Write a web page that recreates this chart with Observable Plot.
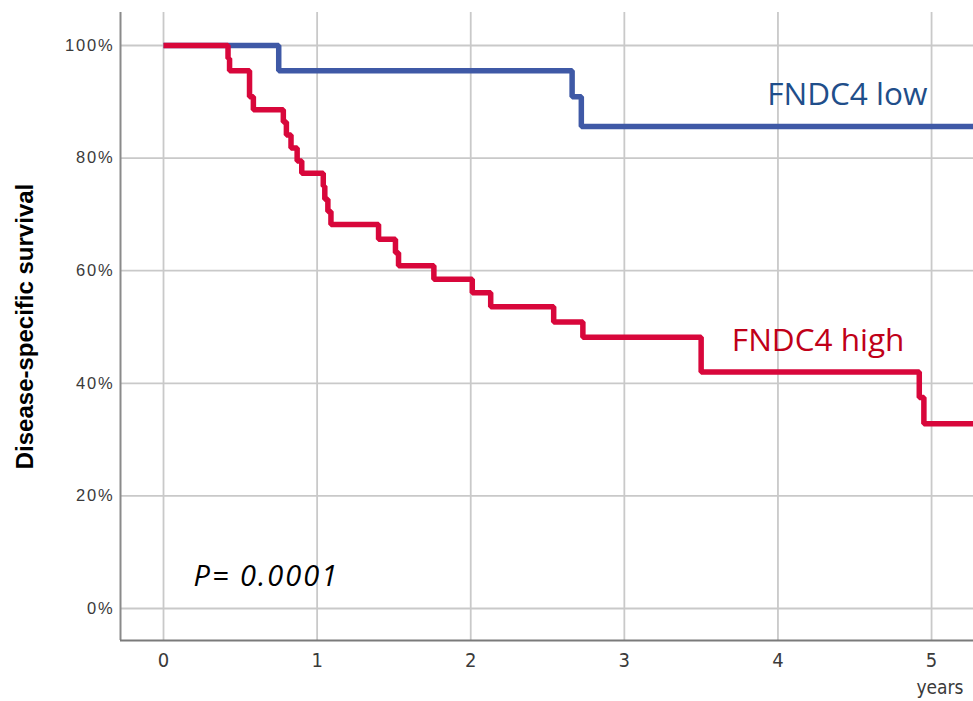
<!DOCTYPE html>
<html>
<head>
<meta charset="utf-8">
<script src="https://cdn.jsdelivr.net/npm/d3@7"></script>
<script src="https://cdn.jsdelivr.net/npm/@observablehq/plot@0.6"></script>
<style>
  html, body { margin: 0; padding: 0; background: #fff; }
  .ks g[aria-label="y-axis tick label"] { font-family: "Liberation Sans", Arial, sans-serif; font-size: 16.5px; fill: #3a3a3a; letter-spacing: 1.8px; }
  .ks g[aria-label="x-axis tick label"] { font-family: "Liberation Sans Narrow", "Arial Narrow", "DejaVu Sans Condensed", "DejaVu Sans", sans-serif; font-size: 20px; fill: #3a3a3a; font-stretch: condensed; }
</style>
</head>
<body>
<div id="chart"></div>
<script>
// ---- data ----
const yearTicks = [0, 1, 2, 3, 4, 5];
const pctTicks = [0, 20, 40, 60, 80, 100];
const seriesNames = ["FNDC4 low", "FNDC4 high"];
const seriesColors = ["#3f59a6", "#d8073b"];

const lowTime = [0, 0.75, 2.66, 2.72, 5.3];
const lowSurv = [100, 95.5, 90.9, 85.6, 85.6];

const highTime = [0, 0.42, 0.43, 0.56, 0.585, 0.78, 0.80, 0.83, 0.87, 0.90, 1.04, 1.05, 1.07, 1.09, 1.40, 1.51, 1.53, 1.76, 2.01, 2.13, 2.54, 2.73, 3.50, 4.92, 4.95, 5.3];
const highSurv = [100, 97.7, 95.5, 90.9, 88.6, 86.4, 84.1, 81.8, 79.5, 77.3, 75.0, 72.7, 70.5, 68.2, 65.6, 63.2, 60.9, 58.5, 56.1, 53.6, 50.9, 48.2, 42.0, 37.5, 32.8, 32.8];

const pText = "P= 0.0001";
const yTitle = "Disease-specific survival";
const xTitle = "years";

const xDomain = [-0.28, 5.273];
const yDomain = [-5.68, 105.86];

const low = lowTime.map((t, i) => ({time: t, surv: lowSurv[i], group: seriesNames[0]}));
const high = highTime.map((t, i) => ({time: t, surv: highSurv[i], group: seriesNames[1]}));

const chart = Plot.plot({
  width: 973,
  height: 701,
  marginLeft: 120,
  marginRight: 0,
  marginTop: 12,
  marginBottom: 61,
  className: "ks",
  style: {background: "#fff", fontFamily: "Liberation Sans, Arial, sans-serif"},
  x: {domain: xDomain},
  y: {domain: yDomain},
  marks: [
    Plot.gridX(yearTicks, {stroke: "#c9c9c9", strokeOpacity: 1, strokeWidth: 1.8}),
    Plot.gridY(pctTicks, {stroke: "#c9c9c9", strokeOpacity: 1, strokeWidth: 1.8}),
    Plot.ruleX([xDomain[0]], {stroke: "#8a8a8a", strokeWidth: 2}),
    Plot.ruleY([yDomain[0]], {stroke: "#7a7a7a", strokeWidth: 2}),
    Plot.axisX(yearTicks, {tickSize: 0, tickPadding: 12, tickFormat: d => String(d), label: null}),
    Plot.axisY(pctTicks, {tickSize: 0, tickPadding: 6, tickFormat: d => d + "%", label: null}),
    Plot.line(low, {x: "time", y: "surv", curve: "step-after", stroke: seriesColors[0], strokeWidth: 5.5, clip: true, strokeLinejoin: "miter", strokeLinecap: "butt"}),
    Plot.line(high, {x: "time", y: "surv", curve: "step-after", stroke: seriesColors[1], strokeWidth: 5.5, clip: true, strokeLinejoin: "miter", strokeLinecap: "butt"}),
    Plot.text([seriesNames[0]], {x: 3.93, y: 91.3, text: d => d, textAnchor: "start", lineAnchor: "middle", fontSize: 31.5, fontFamily: "Open Sans, sans-serif", fill: "#1f4e8a"}),
    Plot.text([seriesNames[1]], {x: 3.70, y: 47.6, text: d => d, textAnchor: "start", lineAnchor: "middle", fontSize: 31.5, fontFamily: "Open Sans, sans-serif", fill: "#c00018"}),
    Plot.text([pText], {x: 0.195, y: 5.6, text: d => d, textAnchor: "start", lineAnchor: "middle", fontSize: 29, fontStyle: "italic", fontFamily: "Open Sans, sans-serif", fill: "#000"}),
    Plot.text([yTitle], {frameAnchor: "left", dx: -95, rotate: -90, text: d => d, textAnchor: "middle", lineAnchor: "middle", fontSize: 24, fontWeight: "bold", fontFamily: "Liberation Sans, Arial, sans-serif", fill: "#000"}),
    Plot.text([xTitle], {frameAnchor: "bottom-right", dx: -10, dy: 53, text: d => d, textAnchor: "end", lineAnchor: "bottom", fontSize: 19, fontFamily: "Liberation Sans Narrow, Arial Narrow, DejaVu Sans Condensed, Liberation Sans, sans-serif", fill: "#3a3a3a"})
  ]
});
d3.select(chart).selectAll("text").filter(function () { return this.textContent === pText; }).style("letter-spacing", "2px");
document.getElementById("chart").appendChild(chart);
</script>
</body>
</html>
